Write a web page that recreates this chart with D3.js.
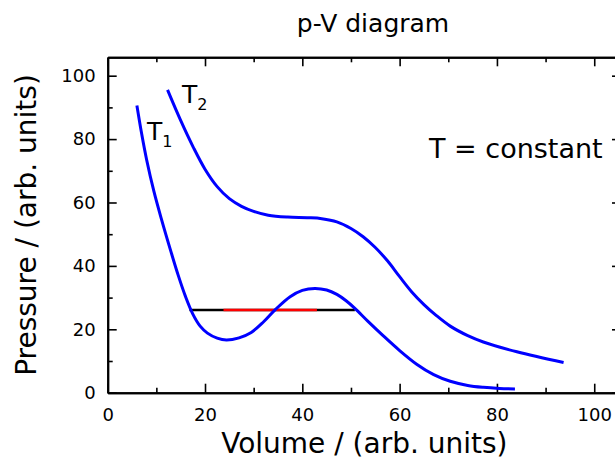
<!DOCTYPE html>
<html>
<head>
<meta charset="utf-8">
<script src="https://cdn.jsdelivr.net/npm/d3@7"></script>
<style>
  body { margin: 0; background: #fff; }
  svg { display: block; }
  text { font-family: "DejaVu Sans", sans-serif; }
</style>
</head>
<body>
<svg id="chart" width="615" height="462"></svg>
<script>
// tick values
const majorTicks = [0, 20, 40, 60, 80, 100];
const minorTicks = [10, 30, 50, 70, 90];

// isotherms: [volume, pressure]
const isoT1 = [
  [6.0, 90.6], [7.0, 81.5], [8.0, 73.5], [9.5, 63.5], [11.0, 55.0], [13.0, 44.5],
  [14.5, 37.0], [16.0, 30.3], [17.5, 24.8], [19.0, 21.0], [20.5, 18.8],
  [22.5, 17.2], [24.4, 16.6], [27.0, 17.3], [29.5, 19.0], [32.0, 22.3],
  [34.5, 26.3], [37.5, 30.3], [40.0, 32.3], [42.6, 32.9], [45.0, 32.4],
  [47.1, 31.0], [49.0, 29.0], [50.8, 26.6], [53.5, 22.5], [56.6, 18.0],
  [60.0, 13.3], [63.5, 9.0], [67.0, 5.7], [70.4, 3.6], [74.0, 2.3],
  [77.2, 1.7], [80.5, 1.35], [83.7, 1.2]
];
const isoT2 = [
  [12.3, 95.5], [14.9, 86.2], [17.6, 77.4], [20.0, 70.5], [22.5, 65.0],
  [25.0, 61.2], [27.5, 58.8], [30.0, 57.2], [33.0, 56.0], [37.0, 55.4],
  [41.0, 55.2], [44.0, 54.9], [47.1, 53.9], [50.0, 51.8], [52.5, 49.2],
  [55.0, 45.8], [57.5, 41.6], [60.0, 36.6], [62.5, 31.8], [65.0, 27.8],
  [67.5, 24.4], [70.4, 21.0], [74.0, 18.0], [77.2, 16.0], [84.1, 12.9],
  [93.7, 9.5]
];

// coexistence line
const tiePressure = 26.1;
const tieOuter = [16.8, 50.8];
const tieInner = [23.8, 43.0];

const svg = d3.select("#chart");
const margin = { left: 107.7, top: 57.3 };
const plotW = 513.3;
const plotH = 335.4;

const x = d3.scaleLinear().domain([0, 105.5]).range([margin.left, margin.left + plotW]);
const y = d3.scaleLinear().domain([0, 105.8]).range([margin.top + plotH, margin.top]);

function styleAxis(g) {
  g.attr("font-family", "DejaVu Sans, sans-serif").attr("font-size", 18);
  g.selectAll("path.domain").attr("stroke", "#000").attr("stroke-width", 2);
  g.selectAll(".tick line").attr("stroke", "#000").attr("stroke-width", 1.6);
  g.selectAll(".tick text").attr("fill", "#000");
}

const yBottom = y(0), yTop = y(105.8), xLeft = x(0), xRight = x(105.5);

// bottom
svg.append("g").attr("transform", `translate(0,${yBottom})`)
  .call(d3.axisBottom(x).tickValues(majorTicks).tickSizeInner(-9).tickSizeOuter(0).tickPadding(16))
  .call(styleAxis);
svg.append("g").attr("transform", `translate(0,${yBottom})`)
  .call(d3.axisBottom(x).tickValues(minorTicks).tickSizeInner(-5).tickSizeOuter(0).tickFormat(""))
  .call(styleAxis);
// top
svg.append("g").attr("transform", `translate(0,${yTop})`)
  .call(d3.axisTop(x).tickValues(majorTicks).tickSizeInner(-9).tickSizeOuter(0).tickFormat(""))
  .call(styleAxis);
svg.append("g").attr("transform", `translate(0,${yTop})`)
  .call(d3.axisTop(x).tickValues(minorTicks).tickSizeInner(-5).tickSizeOuter(0).tickFormat(""))
  .call(styleAxis);
// left
svg.append("g").attr("transform", `translate(${xLeft},0)`)
  .call(d3.axisLeft(y).tickValues(majorTicks).tickSizeInner(-9).tickSizeOuter(0).tickPadding(12))
  .call(styleAxis);
svg.append("g").attr("transform", `translate(${xLeft},0)`)
  .call(d3.axisLeft(y).tickValues(minorTicks).tickSizeInner(-5).tickSizeOuter(0).tickFormat(""))
  .call(styleAxis);
// right
svg.append("g").attr("transform", `translate(${xRight},0)`)
  .call(d3.axisRight(y).tickValues(majorTicks).tickSizeInner(-9).tickSizeOuter(0).tickFormat(""))
  .call(styleAxis);
svg.append("g").attr("transform", `translate(${xRight},0)`)
  .call(d3.axisRight(y).tickValues(minorTicks).tickSizeInner(-5).tickSizeOuter(0).tickFormat(""))
  .call(styleAxis);

// tie line: black outer, red inner
svg.append("line")
  .attr("x1", x(tieOuter[0])).attr("x2", x(tieOuter[1]))
  .attr("y1", y(tiePressure)).attr("y2", y(tiePressure))
  .attr("stroke", "#000").attr("stroke-width", 2.6);
svg.append("line")
  .attr("x1", x(tieInner[0])).attr("x2", x(tieInner[1]))
  .attr("y1", y(tiePressure)).attr("y2", y(tiePressure))
  .attr("stroke", "#ff0000").attr("stroke-width", 2.6);

const line = d3.line()
  .x(d => x(d[0]))
  .y(d => y(d[1]))
  .curve(d3.curveCatmullRom.alpha(0.5));

[isoT1, isoT2].forEach(iso => {
  svg.append("path")
    .datum(iso)
    .attr("d", line)
    .attr("fill", "none")
    .attr("stroke", "#0000ff")
    .attr("stroke-width", 3);
});

// text
svg.append("text")
  .attr("x", 373).attr("y", 32)
  .attr("text-anchor", "middle")
  .attr("font-size", 25)
  .text("p-V diagram");

svg.append("text")
  .attr("x", (xLeft + xRight) / 2).attr("y", 453)
  .attr("text-anchor", "middle")
  .attr("font-size", 28)
  .text("Volume / (arb. units)");

svg.append("text")
  .attr("transform", `translate(36,${(yTop + yBottom) / 2}) rotate(-90)`)
  .attr("text-anchor", "middle")
  .attr("font-size", 28)
  .text("Pressure / (arb. units)");

svg.append("text")
  .attr("x", 429).attr("y", 158)
  .attr("font-size", 27)
  .text("T = constant");

const t1 = svg.append("text").attr("x", 147).attr("y", 140).attr("font-size", 25);
t1.append("tspan").text("T");
t1.append("tspan").attr("font-size", 16).attr("dy", 7).text("1");

const t2 = svg.append("text").attr("x", 182).attr("y", 103).attr("font-size", 25);
t2.append("tspan").text("T");
t2.append("tspan").attr("font-size", 16).attr("dy", 7).text("2");
</script>
</body>
</html>
